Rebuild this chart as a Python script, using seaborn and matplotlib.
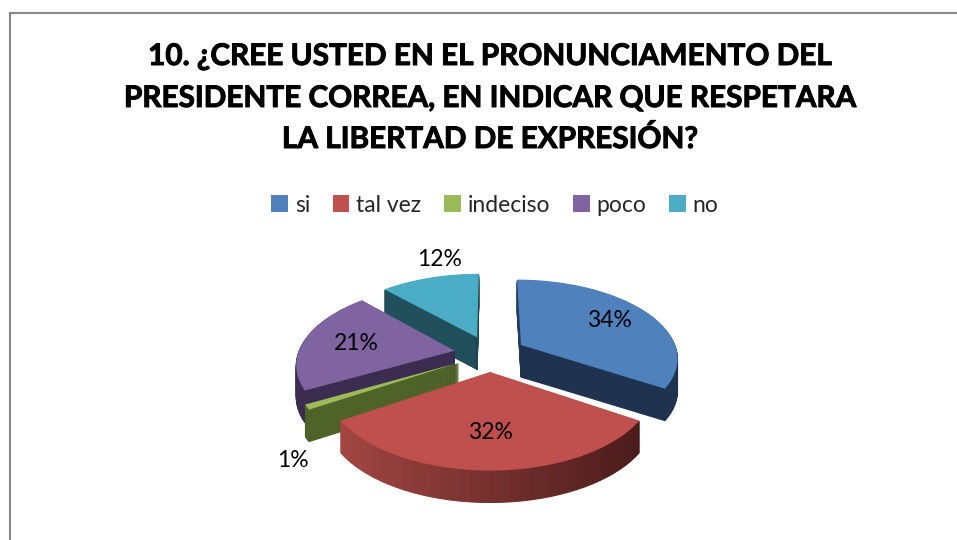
import numpy as np
import matplotlib
matplotlib.use("Agg")
import matplotlib.pyplot as plt
import matplotlib.patheffects as pe
import seaborn as sns
from matplotlib.transforms import Transform
from matplotlib.patches import Patch
from matplotlib.lines import Line2D
from matplotlib.colors import to_rgb

# ---------------- data ----------------
categories = ["si", "tal vez", "indeciso", "poco", "no"]
values = [34, 32, 1, 21, 12]
pct_labels = ["34%", "32%", "1%", "21%", "12%"]
title_lines = [
    "10. ¿CREE USTED EN EL PRONUNCIAMENTO DEL",
    "PRESIDENTE CORREA, EN INDICAR QUE RESPETARA",
    "LA LIBERTAD DE EXPRESIÓN?",
]

# ---------------- style ----------------
top_colors = ["#4F81BD", "#C0504D", "#9BBB59", "#8064A2", "#4BACC6"]
side_left = ["#243B5C", "#A24643", "#4F6228", "#3E2E52", "#21505C"]
side_right = ["#1E324F", "#4A1C1B", "#4F6228", "#3A2A4C", "#1D4752"]
label_r = [0.70, 0.65, 1.33, 0.65, 1.30]
label_dang = [0, 0, -20, 0, 8]

sns.set_theme(style="white")
plt.rcParams["font.family"] = ["Lato", "DejaVu Sans"]

W, H = 957, 540
fig = plt.figure(figsize=(W / 100, H / 100), dpi=100)
fig.patch.set_facecolor("white")
ax = fig.add_axes([0, 0, 1, 1])

# projection parameters (pixel space)
CX, CY0, R, S, A, DEPTH, EXPLODE = 490.0, 385.5, 156.6, 77.6, 0.15, 32.0, 0.23
SHADE_STEP = 3.0  # degrees per shading strip on the side walls


class Persp(Transform):
    input_dims = 2
    output_dims = 2
    is_separable = False
    has_inverse = False

    def __init__(self, z):
        super().__init__()
        self.z = z

    def transform_non_affine(self, pts):
        pts = np.asarray(pts, dtype=float)
        u, v = pts[:, 0], pts[:, 1]
        p = 1.0 / (1.0 + A * v)
        return np.column_stack([CX + R * u * p, CY0 - S * v * p - self.z])


total = float(sum(values))
starts = np.concatenate([[0.0], np.cumsum(values)[:-1]])

# per-slice shading strips for the side walls
side_specs = []
for val, st, cl, cr in zip(values, starts, side_left, side_right):
    span = 360.0 * val / total
    n = max(1, int(round(span / SHADE_STEP)))
    th = np.radians(360.0 * (st + (np.arange(n) + 0.5) * val / n) / total)
    xs = np.sin(th)
    t = (xs - xs.min()) / (np.ptp(xs) if np.ptp(xs) > 0 else 1.0)
    t = 1 - t if xs[0] > xs[-1] else t
    # left (small x) -> cl, right (large x) -> cr
    tx = (xs - xs.min()) / (np.ptp(xs) if np.ptp(xs) > 0 else 1.0)
    cols = [tuple((1 - k) * np.array(to_rgb(cl)) + k * np.array(to_rgb(cr))) for k in tx]
    mid = np.radians(360.0 * (st + val / 2.0) / total)
    side_specs.append((val, st, n, cols, (EXPLODE * np.sin(mid), EXPLODE * np.cos(mid))))


def draw_side_layer(z):
    tr = Persp(z)
    for val, st, n, cols, center in side_specs:
        sub = [val / n] * n + [total - val]
        wedges, _ = ax.pie(sub, colors=cols + ["white"], startangle=90 - 360.0 * st / total,
                           counterclock=False, radius=1, center=center,
                           wedgeprops=dict(linewidth=0.7))
        wedges[-1].remove()
        for w in wedges[:-1]:
            w.set_edgecolor(w.get_facecolor())
            w.set_transform(tr + ax.transData)


for z in np.arange(0, DEPTH, 1.0):
    draw_side_layer(z)

top_w, _ = ax.pie(values, colors=top_colors, startangle=90, counterclock=False,
                  explode=[EXPLODE] * len(values), radius=1, center=(0, 0),
                  wedgeprops=dict(linewidth=0))
top_tr = Persp(DEPTH)
for w in top_w:
    w.set_transform(top_tr + ax.transData)

ax.set_aspect("auto")
ax.set_xlim(0, W)
ax.set_ylim(H, 0)
ax.axis("off")

# data labels
for val, st, lab, r, dang in zip(values, starts, pct_labels, label_r, label_dang):
    mid = 360.0 * (st + val / 2.0) / total
    m = np.radians(mid)
    a = np.radians(mid + dang)
    u = EXPLODE * np.sin(m) + r * np.sin(a)
    v = EXPLODE * np.cos(m) + r * np.cos(a)
    x, y = top_tr.transform_non_affine(np.array([[u, v]]))[0]
    ax.text(x, y, lab, ha="center", va="center", fontsize=16.5, color="black", zorder=5)

# title (fit first line width to the reference)
t0 = fig.text(490 / W, 1 - 65 / H, title_lines[0], ha="center", va="baseline",
              fontsize=20, fontweight="bold")
fig.canvas.draw()
fs = 20 * 684.0 / t0.get_window_extent().width
t0.remove()
for line, base in zip(title_lines, [65, 107, 148]):
    fig.text(490 / W, 1 - base / H, line, ha="center", va="baseline",
             fontsize=fs, fontweight="bold", color="black",
             path_effects=[pe.withStroke(linewidth=0.7, foreground="black")])

# legend
handles = [Patch(facecolor=c, edgecolor="none") for c in top_colors]
fig.legend(handles, categories, loc="center", bbox_to_anchor=(495 / W, 1 - 205 / H),
           ncol=5, frameon=False, fontsize=16.5, handlelength=0.72, handleheight=0.72,
           handletextpad=0.3, columnspacing=1.0, borderaxespad=0)

# chart border (top and left visible)
fig.add_artist(Line2D([9.5 / W, 1.0], [1 - 12.5 / H] * 2, transform=fig.transFigure,
                      color="#868686", lw=1.5))
fig.add_artist(Line2D([9.5 / W] * 2, [0.0, 1 - 12.5 / H], transform=fig.transFigure,
                      color="#868686", lw=1.5))

fig.savefig("out.png", dpi=100, facecolor="white")
